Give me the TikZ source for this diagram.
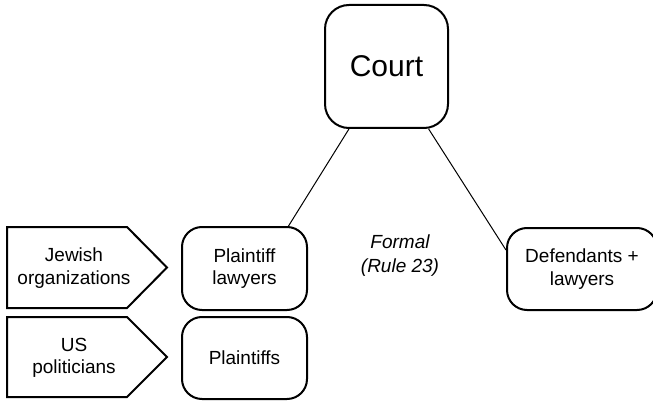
\documentclass[tikz,border=0pt]{standalone}
\usepackage{fontspec}
\setmainfont{Liberation Sans}
\tikzset{
    party/.style={draw, line width=1pt, rounded corners=10pt, align=center, inner sep=0pt,
        font=\fontsize{9.5}{11.2}\selectfont},
    group/.style={draw, line width=1pt},
    grouptext/.style={align=center, inner sep=0pt, font=\fontsize{9.5}{11.2}\selectfont},
    tie/.style={draw, line width=0.5pt}
}
\begin{document}
\begin{tikzpicture}
    \useasboundingbox (0pt,0pt) rectangle (326.5pt,-200.5pt);
    \node[party, minimum width=61.5pt, minimum height=61.5pt, rounded corners=12pt,
        font=\fontsize{15}{18}\selectfont] (court) at (193.25pt,-33.25pt) {Court};
    \node[party, minimum width=62.5pt, minimum height=41.5pt] (lawyers) at (122.25pt,-134.25pt) {Plaintiff\\lawyers};
    \node[party, minimum width=62.5pt, minimum height=41pt] (plaintiffs) at (122.25pt,-179pt) {Plaintiffs};
    \node[party, minimum width=75pt, minimum height=41pt] (defendants) at (291pt,-134.5pt) {Defendants +\\lawyers};
    \draw[group] (3.5pt,-113.5pt) -- (63.5pt,-113.5pt) -- (83.5pt,-133.75pt) -- (63.5pt,-154pt) -- (3.5pt,-154pt) -- cycle;
    \node[grouptext] (jewish) at (37pt,-134pt) {Jewish\\organizations};
    \draw[group] (3.5pt,-158.5pt) -- (63.5pt,-158.5pt) -- (83.5pt,-178.5pt) -- (63.5pt,-198.5pt) -- (3.5pt,-198.5pt) -- cycle;
    \node[grouptext] (politicians) at (37pt,-179pt) {US\\politicians};
    \node[grouptext, font=\fontsize{9.5}{12}\selectfont\itshape] (formal) at (200pt,-128pt) {Formal\\(Rule 23)};
    \draw[tie] (court.-121) -- (lawyers.44);
    \draw[tie] (court.-56) -- (defendants.166);
\end{tikzpicture}
\end{document}
